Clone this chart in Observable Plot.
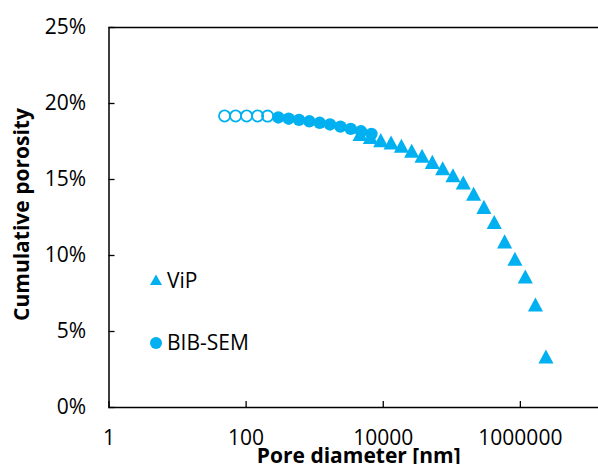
<!DOCTYPE html>
<html>
<head>
<meta charset="utf-8">
<script src="https://cdn.jsdelivr.net/npm/d3@7"></script>
<script src="https://cdn.jsdelivr.net/npm/@observablehq/plot@0.6"></script>
<style>
  body { margin: 0; background: #fff; }
  #wrap { position: relative; width: 598px; height: 464px; overflow: hidden; background: #fff; font-family: "Open Sans", sans-serif; }
  .legsym { position: absolute; }
  .legtxt { position: absolute; font-size: 21px; line-height: 21px; color: #000; white-space: nowrap; }
</style>
</head>
<body>
<div id="wrap"></div>
<script>
// ---- data ----
const xTicks = [1, 100, 10000, 1000000];          // labelled ticks visible in the picture
const xTickMarks = [1, 100, 10000, 1000000, 100000000];
const yTicks = [0, 5, 10, 15, 20, 25];

// ViP (triangles): pore diameter [nm], cumulative porosity [%]
const vipDiameter = [4600, 6500, 9200, 13000, 18400, 26000, 36800, 52000, 73600, 104000,
                     147000, 208000, 294000, 416000, 589000, 833000, 1180000, 1660000, 2360000];
const vipPorosity = [18.00, 17.80, 17.59, 17.43, 17.22, 16.89, 16.56, 16.16, 15.74, 15.28,
                     14.80, 14.06, 13.20, 12.20, 10.93, 9.78, 8.62, 6.78, 3.36];

// BIB-SEM open circles (small pores)
const bibOpenDiameter = [48.5, 70.3, 101.7, 147, 206];
const bibOpenPorosity = [19.18, 19.18, 19.18, 19.18, 19.17];

// BIB-SEM filled circles
const bibDiameter = [295, 417, 590, 837, 1183, 1672, 2372, 3355, 4742, 6728];
const bibPorosity = [19.08, 19.00, 18.92, 18.83, 18.73, 18.62, 18.48, 18.33, 18.17, 18.00];

const legendLabels = ["ViP", "BIB-SEM"];
const xTitle = "Pore diameter [nm]";
const yTitle = "Cumulative porosity";
const blue = "#00B0F0";

// ---- tables ----
const vip = vipDiameter.map((d, i) => ({d, p: vipPorosity[i]}));
const bibOpen = bibOpenDiameter.map((d, i) => ({d, p: bibOpenPorosity[i]}));
const bib = bibDiameter.map((d, i) => ({d, p: bibPorosity[i]}));

// triangle centred on its bounding box (Excel-style marker)
const triangle = {
  draw(context, size) {
    const r = Math.sqrt(size / Math.PI);
    const a = r * 2.7, h = a * 0.93;
    context.moveTo(0, -h / 2);
    context.lineTo(a / 2, h / 2);
    context.lineTo(-a / 2, h / 2);
    context.closePath();
  }
};

const chart = Plot.plot({
  width: 657,
  height: 464,
  marginLeft: 108.5,
  marginRight: 0,
  marginTop: 27,
  marginBottom: 57,
  style: "max-width:none;overflow:hidden;background:white;font-family:'Open Sans',sans-serif;font-size:21px;color:#000;",
  x: {type: "log", domain: [1, 100000000]},
  y: {domain: [0, 25]},
  marks: [
    Plot.frame({stroke: "#000", strokeWidth: 1.5}),
    Plot.axisX({ticks: xTickMarks, tickSize: -6, strokeWidth: 1.3, text: null, label: null}),
    Plot.axisX({ticks: xTicks, tickSize: 0, tickPadding: 22.5, tickFormat: d3.format("d"), label: null, fontSize: 21}),
    Plot.axisY({ticks: yTicks, tickSize: -6, strokeWidth: 1.3, text: null, label: null}),
    Plot.axisY({ticks: yTicks, tickSize: 0, tickPadding: 23, tickFormat: d => d + "%", label: null, fontSize: 21}),
    Plot.dot(vip, {x: "d", y: "p", symbol: triangle, r: 5.6, fill: blue, stroke: "none"}),
    Plot.dot(bibOpen, {x: "d", y: "p", r: 5.6, fill: "none", stroke: blue, strokeWidth: 1.8}),
    Plot.dot(bib, {x: "d", y: "p", r: 6.2, fill: blue, stroke: "none"}),
    Plot.text([yTitle], {frameAnchor: "left", dx: -86.5, dy: -3, rotate: -90, textAnchor: "middle", fontWeight: "bold", fontSize: 21, fill: "#000", lineAnchor: "middle"}),
    Plot.text([xTitle], {frameAnchor: "bottom", dx: -24.5, dy: 49, textAnchor: "middle", fontWeight: "bold", fontSize: 21, fill: "#000", lineAnchor: "middle"})
  ]
});

const wrap = document.getElementById("wrap");
wrap.appendChild(chart);

// legend (HTML overlay inside the plot area)
const ns = "http://www.w3.org/2000/svg";
function legendItem(kind, label, symTop, txtTop) {
  const s = document.createElementNS(ns, "svg");
  s.setAttribute("class", "legsym");
  s.setAttribute("width", 14); s.setAttribute("height", 14);
  s.style.left = "149px"; s.style.top = symTop + "px";
  let el;
  if (kind === "tri") {
    el = document.createElementNS(ns, "path");
    el.setAttribute("d", "M7,1.5 L13,12 L1,12 Z");
  } else {
    el = document.createElementNS(ns, "circle");
    el.setAttribute("cx", 7); el.setAttribute("cy", 7); el.setAttribute("r", 6);
  }
  el.setAttribute("fill", blue);
  s.appendChild(el);
  wrap.appendChild(s);
  const t = document.createElement("div");
  t.className = "legtxt";
  t.style.left = "167px"; t.style.top = txtTop + "px";
  t.textContent = label;
  wrap.appendChild(t);
}
legendItem("tri", legendLabels[0], 273, 269.5);
legendItem("dot", legendLabels[1], 336, 332);
</script>
</body>
</html>
